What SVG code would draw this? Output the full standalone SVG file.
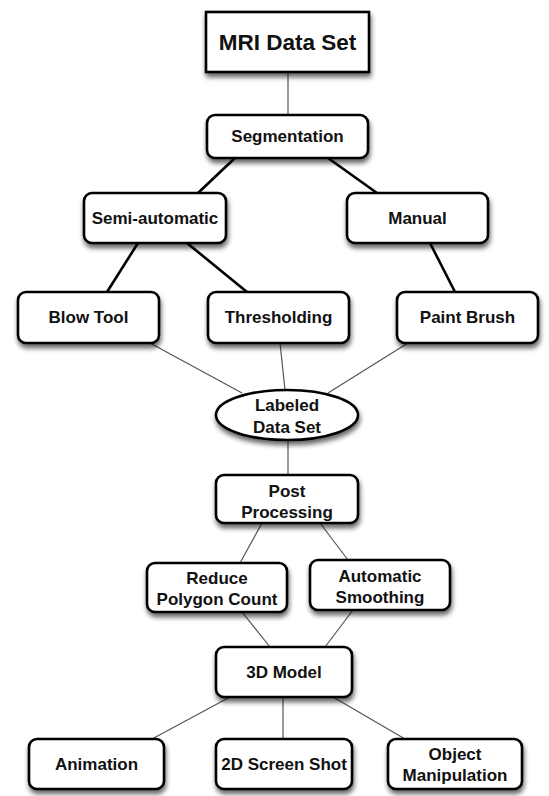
<svg xmlns="http://www.w3.org/2000/svg" width="549" height="796" viewBox="0 0 549 796">
<defs>
<filter id="sh" x="-20%" y="-20%" width="140%" height="160%">
<feGaussianBlur in="SourceAlpha" stdDeviation="2.5"/>
<feOffset dx="1" dy="4" result="o"/>
<feComponentTransfer><feFuncA type="linear" slope="0.6"/></feComponentTransfer>
<feMerge><feMergeNode/><feMergeNode in="SourceGraphic"/></feMerge>
</filter>
</defs>
<style>
.n{fill:#fff;stroke:#000;stroke-width:2.6;filter:url(#sh)}
.t{font-family:"Liberation Sans",Arial,sans-serif;font-weight:bold;font-size:17px;text-anchor:middle;fill:#111}
.thin{stroke:#555;stroke-width:1.2;fill:none}
.thick{stroke:#000;stroke-width:2.6;fill:none}
</style>
<rect width="549" height="796" fill="#fff"/>
<g id="connectors">
<line class="thin" x1="288" y1="72" x2="288" y2="115"/>
<line class="thick" x1="235" y1="158" x2="198" y2="193"/>
<line class="thick" x1="328" y1="158" x2="377" y2="193"/>
<line class="thick" x1="138" y1="243" x2="107" y2="292"/>
<line class="thick" x1="187" y1="243" x2="247" y2="292"/>
<line class="thick" x1="430" y1="243" x2="455" y2="292"/>
<line class="thin" x1="150" y1="343" x2="242" y2="393"/>
<line class="thin" x1="280" y1="343" x2="285" y2="390"/>
<line class="thin" x1="408" y1="343" x2="328" y2="393"/>
<line class="thin" x1="288" y1="440" x2="288" y2="475"/>
<line class="thin" x1="262" y1="523" x2="240" y2="563"/>
<line class="thin" x1="320" y1="523" x2="348" y2="560"/>
<line class="thin" x1="242" y1="612" x2="270" y2="647"/>
<line class="thin" x1="353" y1="610" x2="325" y2="647"/>
<line class="thin" x1="230" y1="697" x2="152" y2="739"/>
<line class="thin" x1="283" y1="697" x2="283" y2="739"/>
<line class="thin" x1="333" y1="697" x2="405" y2="739"/>
</g>
<g id="mri"><rect class="n" x="206" y="12" width="163" height="60"/><text class="t" x="287.5" y="50" style="font-size:22.5px">MRI Data Set</text></g>
<g id="segmentation"><rect class="n" x="207" y="115" width="161" height="43" rx="8"/><text class="t" x="287.5" y="142">Segmentation</text></g>
<g id="semiauto"><rect class="n" x="84" y="193" width="142" height="50" rx="8"/><text class="t" x="155" y="224">Semi-automatic</text></g>
<g id="manual"><rect class="n" x="347" y="193" width="141" height="50" rx="8"/><text class="t" x="417.5" y="224">Manual</text></g>
<g id="blowtool"><rect class="n" x="18" y="292" width="141" height="51" rx="8"/><text class="t" x="88.5" y="323">Blow Tool</text></g>
<g id="thresholding"><rect class="n" x="208" y="292" width="141" height="51" rx="8"/><text class="t" x="278.5" y="323">Thresholding</text></g>
<g id="paintbrush"><rect class="n" x="397" y="292" width="141" height="51" rx="8"/><text class="t" x="467.5" y="323">Paint Brush</text></g>
<g id="labeled"><ellipse class="n" cx="287" cy="415" rx="71" ry="25"/><text class="t" x="287" y="411">Labeled</text><text class="t" x="287" y="433">Data Set</text></g>
<g id="postprocessing"><rect class="n" x="216" y="475" width="142" height="48" rx="8"/><text class="t" x="287" y="497">Post</text><text class="t" x="287" y="518">Processing</text></g>
<g id="reduce"><rect class="n" x="147" y="563" width="140" height="49" rx="8"/><text class="t" x="217" y="584">Reduce</text><text class="t" x="217" y="605">Polygon Count</text></g>
<g id="smoothing"><rect class="n" x="310" y="560" width="140" height="50" rx="8"/><text class="t" x="380" y="582">Automatic</text><text class="t" x="380" y="603">Smoothing</text></g>
<g id="model3d"><rect class="n" x="216" y="647" width="136" height="50" rx="8"/><text class="t" x="284" y="678">3D Model</text></g>
<g id="animation"><rect class="n" x="29" y="739" width="135" height="50" rx="8"/><text class="t" x="96.5" y="770">Animation</text></g>
<g id="screenshot"><rect class="n" x="216" y="739" width="136" height="50" rx="8"/><text class="t" x="284" y="770">2D Screen Shot</text></g>
<g id="objectmanip"><rect class="n" x="388" y="739" width="134" height="50" rx="8"/><text class="t" x="455" y="760">Object</text><text class="t" x="455" y="781">Manipulation</text></g>
</svg>
